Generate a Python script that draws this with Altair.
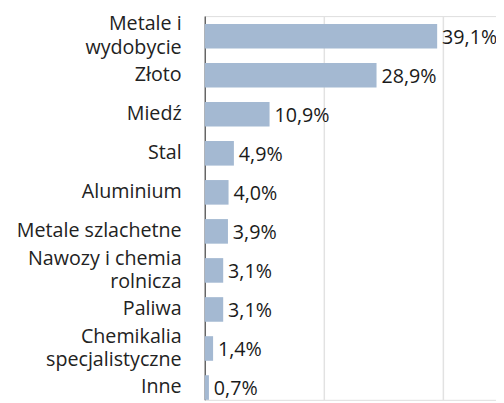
import altair as alt
import pandas as pd

categories = ["Metale i|wydobycie", "Złoto", "Miedź", "Stal", "Aluminium",
              "Metale szlachetne", "Nawozy i chemia|rolnicza", "Paliwa",
              "Chemikalia|specjalistyczne", "Inne"]
values = [39.1, 28.9, 10.9, 4.9, 4.0, 3.9, 3.1, 3.1, 1.4, 0.7]
value_labels = ["39,1%", "28,9%", "10,9%", "4,9%", "4,0%", "3,9%", "3,1%", "3,1%", "1,4%", "0,7%"]

df = pd.DataFrame({"cat": categories, "val": values, "lab": value_labels})

FONT = "Open Sans"
FS = 20
LH = 24

y_enc = alt.Y("cat:N", sort=categories, title=None,
              scale=alt.Scale(paddingInner=0.37, paddingOuter=0.1, align=1),
              axis=alt.Axis(labelExpr="split(datum.label, '|')", labelFont=FONT,
                            labelFontSize=FS, labelColor="#222222", labelPadding=24,
                            labelLineHeight=LH, ticks=False, domain=True,
                            labelOffset=alt.condition("indexof(datum.value, '|') >= 0",
                                                      alt.value(-LH / 2), alt.value(0)),
                            domainColor="#666666", domainWidth=1.5, grid=False))

x_enc = alt.X("val:Q", title=None,
              scale=alt.Scale(domain=[0, 49], nice=False),
              axis=alt.Axis(values=[20, 40], labels=False, ticks=False, domain=False,
                            grid=True, gridColor="#e2e2e2", gridWidth=1.5))

bars = alt.Chart(df).mark_bar(color="#a4b9d2").encode(x=x_enc, y=y_enc)

text = alt.Chart(df).mark_text(align="left", baseline="middle", dx=5, dy=2,
                               font=FONT, fontSize=FS, color="#1a1a1a").encode(
    x=alt.X("val:Q"), y=alt.Y("cat:N", sort=categories), text="lab:N")

chart = (bars + text).properties(
    width=296, height=390,
    padding={"left": 200, "top": 5, "right": 0, "bottom": 0},
    autosize=alt.AutoSizeParams(type="none"),
).configure_view(stroke=None).configure(background="white")

chart.save("out.html", embed_options={"renderer": "svg", "actions": False})
